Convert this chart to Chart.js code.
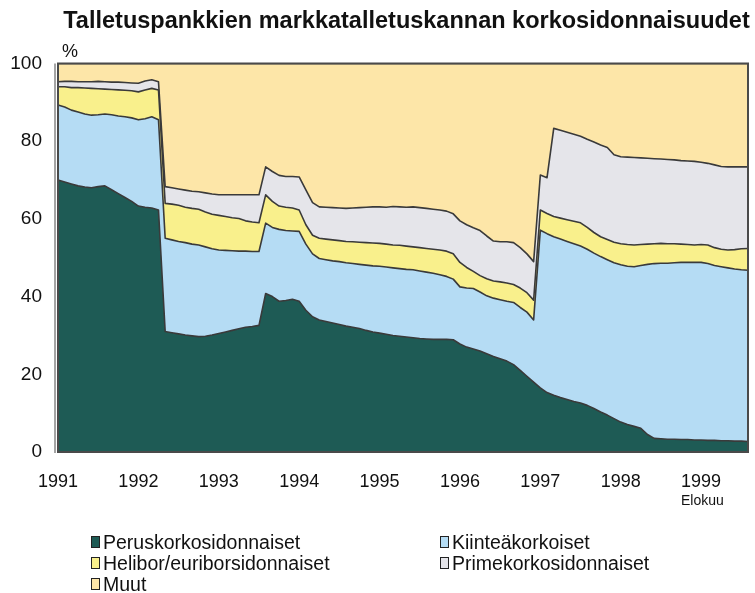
<!DOCTYPE html>
<html>
<head>
<meta charset="utf-8">
<script src="https://cdn.jsdelivr.net/npm/chart.js@4.4.1/dist/chart.umd.min.js"></script>
<style>
  html, body { margin: 0; padding: 0; background: #fff; }
  #wrap { position: relative; width: 755px; height: 593px; font-family: "Liberation Sans", Arial, Helvetica, sans-serif; color: #111; }
  canvas { position: absolute; left: 0; top: 0; }
  .txt { position: absolute; white-space: nowrap; }
  #title { left: 0; width: 813px; top: 6px; text-align: center; font-weight: bold; font-size: 23.5px; line-height: 28px; }
  #pct { left: 62px; top: 41px; font-size: 18px; line-height: 20px; }
  #elokuu { left: 681px; top: 492px; font-size: 14px; line-height: 16px; }
  .leg { position: absolute; font-size: 19.5px; line-height: 22px; height: 22px; }
  .leg .box { position: absolute; left: 0; top: 5px; width: 9px; height: 12px; border: 1px solid #222; box-sizing: border-box; }
  .leg .lab { position: absolute; left: 12px; top: 0; white-space: nowrap; }
</style>
</head>
<body>
<div id="wrap">
  <canvas id="c" width="755" height="593"></canvas>
  <div id="title" class="txt">Talletuspankkien markkatalletuskannan korkosidonnaisuudet</div>
  <div id="pct" class="txt">%</div>
  <div id="elokuu" class="txt">Elokuu</div>
  <div id="legend"></div>
</div>
<script>
// ---- Data (monthly, Jan 1991 – Aug 1999), shares in % ----
const startYear = 1991;
const monthCount = 104;
const yearTicks = ['1991','1992','1993','1994','1995','1996','1997','1998','1999'];
const seriesNames = ['Peruskorkosidonnaiset','Kiinteäkorkoiset','Helibor/euriborsidonnaiset','Primekorkosidonnaiset','Muut'];

const perus = [70.0,69.5,69.0,68.5,68.2,68.0,68.3,68.5,67.5,66.5,65.5,64.5,63.3,63.0,62.8,62.3,
  31.0,30.7,30.4,30.1,29.9,29.7,29.8,30.1,30.5,30.9,31.3,31.7,32.1,32.3,32.6,
  40.8,40.0,38.8,39.0,39.3,38.8,36.5,34.8,34.0,33.6,33.2,32.8,32.4,32.1,31.8,31.3,30.9,30.6,30.3,30.0,29.8,29.6,29.4,29.2,29.1,29.0,29.0,29.0,28.9,27.8,27.0,26.5,26.0,25.3,24.6,24.0,23.4,22.5,21.0,19.5,18.0,
  16.5,15.3,14.6,14.0,13.5,13.0,12.6,12.0,11.2,10.3,9.5,8.6,7.7,7.1,6.6,6.1,4.5,3.5,3.4,3.3,3.3,3.2,3.2,3.1,3.1,3.0,3.0,2.9,2.9,2.8,2.8,2.7];
const kiintea = [19.3,19.3,19.0,19.0,18.8,18.7,18.5,18.5,19.3,20.0,20.8,21.5,22.2,22.8,23.5,23.2,
  24.0,23.9,23.8,23.8,23.6,23.6,23.0,22.2,21.5,21.0,20.5,20.0,19.6,19.3,19.0,
  18.1,17.8,18.5,18.0,17.6,18.0,17.0,16.2,15.8,15.9,16.0,16.2,16.3,16.4,16.5,16.8,17.0,17.2,17.3,17.4,17.4,17.4,17.5,17.4,17.2,17.0,16.6,16.2,15.6,14.7,15.2,15.6,15.2,14.9,15.0,15.2,15.4,16.0,16.2,16.5,16.0,
  40.6,40.9,40.8,40.8,40.7,40.6,40.4,40.2,40.0,40.0,40.0,40.1,40.5,40.7,41.1,41.9,43.8,45.0,45.2,45.3,45.4,45.6,45.6,45.7,45.7,45.5,45.0,44.8,44.5,44.3,44.1,44.1];
const helibor = [4.7,5.2,5.8,6.3,6.7,6.9,6.7,6.4,6.5,6.7,6.8,7.0,7.2,7.4,7.3,7.7,
  9.0,9.2,9.3,9.1,9.2,9.2,9.0,8.9,8.9,8.7,8.5,8.4,7.8,7.6,7.4,
  7.3,6.7,6.0,6.0,5.9,5.5,5.0,4.8,5.2,5.3,5.4,5.4,5.5,5.6,5.7,5.8,5.9,5.9,5.9,5.9,6.0,6.0,5.9,6.0,6.1,6.2,6.4,6.5,6.5,6.3,5.3,4.4,4.2,4.4,4.4,4.6,4.7,4.6,5.0,5.0,5.1,
  5.2,5.2,5.2,5.4,5.6,5.8,6.0,5.6,5.3,5.1,5.2,5.3,5.4,5.6,5.6,5.4,5.2,5.1,5.1,5.0,4.9,4.7,4.6,4.5,4.6,4.8,4.6,4.5,4.6,5.0,5.4,5.6];
const prime = [1.3,1.4,1.6,1.5,1.6,1.7,1.9,1.9,1.9,2.0,2.0,2.0,2.2,2.3,2.2,2.1,
  4.3,4.2,4.2,4.4,4.4,4.5,4.9,5.2,5.3,5.6,5.9,6.1,6.7,7.0,7.2,
  7.2,7.7,7.9,7.9,8.1,8.5,9.0,8.4,8.1,8.2,8.3,8.4,8.5,8.7,8.9,9.1,9.3,9.4,9.5,9.9,9.9,10.0,10.3,10.3,10.3,10.3,10.3,10.3,10.3,10.7,11.0,11.2,11.6,11.0,10.3,10.3,10.6,10.8,10.4,10.0,9.9,
  9.0,9.2,22.7,22.6,22.5,22.4,22.3,22.7,23.3,23.6,23.7,22.5,22.4,22.5,22.5,22.3,22.1,21.9,21.7,21.7,21.6,21.5,21.5,21.5,21.2,21.0,21.3,21.3,21.4,21.3,21.1,21.0];
const muut = [4.7,4.6,4.6,4.7,4.7,4.7,4.6,4.7,4.8,4.8,4.9,5.0,5.1,4.5,4.2,4.7,
  31.7,32.0,32.3,32.6,32.9,33.0,33.3,33.6,33.8,33.8,33.8,33.8,33.8,33.8,33.8,
  26.6,27.8,28.8,29.1,29.1,29.2,32.5,35.8,36.9,37.0,37.1,37.2,37.3,37.2,37.1,37.0,36.9,36.9,37.0,36.8,36.9,37.0,36.9,37.1,37.3,37.5,37.7,38.0,38.7,40.5,41.5,42.3,43.0,44.4,45.7,45.9,45.9,46.1,47.4,49.0,51.0,
  28.7,29.4,16.7,17.2,17.7,18.2,18.7,19.5,20.2,21.0,21.6,23.5,24.0,24.1,24.2,24.3,24.4,24.5,24.6,24.7,24.8,25.0,25.1,25.2,25.4,25.7,26.1,26.5,26.6,26.6,26.6,26.6];

// ---- Styling ----
const colors = ['#1e5b55', '#b5dcf4', '#f9f08c', '#e5e5ea', '#fde6a8'];
const lineColor = '#3a3a3a';

const months = [];
for (let i = 0; i < monthCount; i++) {
  const y = startYear + Math.floor(i / 12), m = (i % 12) + 1;
  months.push(y + '-' + (m < 10 ? '0' + m : m));
}

const values = [perus, kiintea, helibor, prime, muut];
const datasets = values.map((v, i) => ({
  label: seriesNames[i],
  data: v,
  backgroundColor: colors[i],
  borderColor: lineColor,
  borderWidth: 1.6,
  fill: i === 0 ? 'origin' : '-1',
  pointRadius: 0,
  tension: 0
}));

const framePlugin = {
  id: 'frame',
  afterDatasetsDraw(chart) {
    const { ctx, chartArea: a } = chart;
    ctx.save();
    ctx.strokeStyle = '#4a4a4a';
    ctx.lineWidth = 2;
    ctx.strokeRect(a.left, a.top, a.right - a.left, a.bottom - a.top);
    ctx.lineWidth = 1;
    ctx.beginPath();
    ctx.moveTo(a.left - 3, a.top);
    ctx.lineTo(a.left - 3, a.bottom + 1);
    ctx.stroke();
    ctx.restore();
  }
};

const font = { family: '"Liberation Sans", Arial, Helvetica, sans-serif' };

new Chart(document.getElementById('c'), {
  type: 'line',
  data: { labels: months, datasets },
  plugins: [framePlugin],
  options: {
    responsive: false,
    animation: false,
    layout: { padding: { top: 63.5, right: 7, left: 0, bottom: 0 } },
    plugins: { legend: { display: false }, tooltip: { enabled: false }, title: { display: false } },
    elements: { line: { borderJoinStyle: 'round' } },
    scales: {
      x: {
        offset: false,
        grid: { display: false, drawTicks: false },
        border: { display: false },
        afterFit(s) { s.height = 141; s.paddingLeft = 0; s.paddingRight = 0; },
        ticks: {
          autoSkip: false, maxRotation: 0, minRotation: 0, padding: 19,
          color: '#111', font: { ...font, size: 18 },
          callback(val, idx) { return idx % 12 === 0 ? yearTicks[idx / 12] : ''; }
        }
      },
      y: {
        stacked: true,
        min: 0, max: 100,
        grid: { display: false, drawTicks: false },
        border: { display: false },
        afterFit(s) { s.width = 58; s.paddingTop = 0; s.paddingBottom = 0; },
        ticks: { stepSize: 20, padding: 16, color: '#111', font: { ...font, size: 19 } }
      }
    }
  }
});

// ---- Legend (two columns) ----
const legendPos = [
  { x: 91, y: 531 }, { x: 440, y: 531 },
  { x: 91, y: 552 }, { x: 440, y: 552 },
  { x: 91, y: 573 }
];
const legendEl = document.getElementById('legend');
seriesNames.forEach((name, i) => {
  const d = document.createElement('div');
  d.className = 'leg';
  d.style.left = legendPos[i].x + 'px';
  d.style.top = legendPos[i].y + 'px';
  d.innerHTML = '<span class="box" style="background:' + colors[i] + '"></span><span class="lab">' + name + '</span>';
  legendEl.appendChild(d);
});
</script>
</body>
</html>
